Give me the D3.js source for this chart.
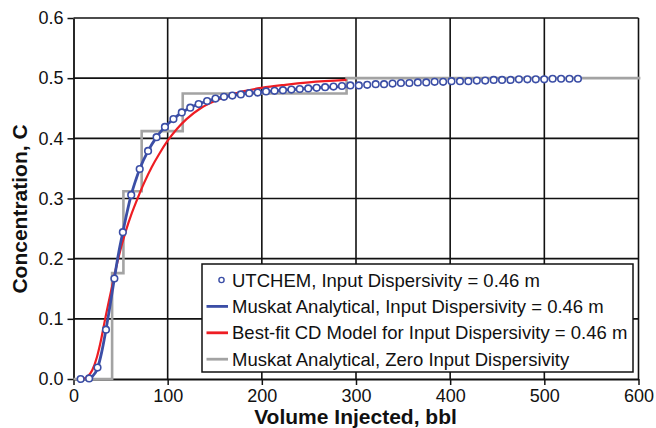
<!DOCTYPE html>
<html lang="en">
<head>
<meta charset="UTF-8">
<title>Concentration vs Volume Injected</title>
<script src="https://d3js.org/d3.v7.min.js"></script>
<style>
    body { margin: 0; background: #fff; }
    text { font-family: "Liberation Sans", Arial, sans-serif; }
</style>
</head>
<body>
<svg id="chart" width="656" height="428"></svg>
<script>
    // UTCHEM simulation points (bbl, C)
    const utchemX = [7.6, 16.6, 25.5, 34.5, 43.4, 52.4, 61.3, 70.3, 79.2, 88.2,
        97.1, 106.1, 115.0, 124.0, 132.9, 141.9, 150.8, 159.8, 168.7, 177.7,
        186.6, 195.6, 204.5, 213.5, 222.4, 231.4, 240.3, 249.3, 258.2, 267.2,
        276.1, 285.1, 294.0, 303.0, 311.9, 320.9, 329.8, 338.8, 347.7, 356.7,
        365.6, 374.6, 383.5, 392.5, 401.4, 410.4, 419.3, 428.3, 437.2, 446.2,
        455.1, 464.1, 473.0, 482.0, 490.9, 499.9, 508.8, 517.8, 526.7, 535.7];
    const utchemC = [0.000, 0.001, 0.019, 0.082, 0.167, 0.244, 0.306, 0.349, 0.379, 0.402,
        0.419, 0.432, 0.443, 0.451, 0.457, 0.462, 0.466, 0.469, 0.471, 0.473,
        0.475, 0.476, 0.478, 0.479, 0.480, 0.481, 0.482, 0.483, 0.484, 0.485,
        0.486, 0.487, 0.488, 0.488, 0.489, 0.490, 0.490, 0.491, 0.492, 0.492,
        0.493, 0.493, 0.494, 0.494, 0.495, 0.495, 0.495, 0.496, 0.496, 0.497,
        0.497, 0.497, 0.498, 0.498, 0.498, 0.498, 0.499, 0.499, 0.499, 0.499];

    // Muskat analytical, input dispersivity 0.46 m
    const muskatX = [16, 20, 25.5, 30, 34.5, 39, 43.4, 48, 52.4, 57, 61.3, 66, 70.3,
        79.2, 88.2, 97.1, 106.1, 115, 124, 141.9, 159.8, 186.6, 213.5, 240.3, 267.2, 290];
    const muskatC = [0, 0.004, 0.018, 0.045, 0.082, 0.124, 0.167, 0.21, 0.244, 0.278, 0.306, 0.33, 0.349,
        0.379, 0.402, 0.419, 0.432, 0.443, 0.451, 0.462, 0.469, 0.475, 0.479, 0.482, 0.485, 0.4865];

    // Best-fit CD model
    const cdX = [10, 15, 20, 25, 29, 33, 40, 47, 55, 62, 68, 75, 83, 91, 100, 110,
        120, 135, 150, 165, 180, 200, 225, 250, 290];
    const cdC = [0, 0.004, 0.015, 0.037, 0.063, 0.095, 0.147, 0.197, 0.243, 0.276, 0.300, 0.326, 0.352, 0.374, 0.396, 0.416,
        0.432, 0.450, 0.462, 0.471, 0.478, 0.484, 0.489, 0.493, 0.497];

    // Muskat analytical, zero dispersivity (step function)
    const stepX = [0, 41, 53, 72.4, 116, 290, 602];
    const stepC = [0, 0.176, 0.312, 0.412, 0.4746, 0.5, 0.5];

    const xTicks = [0, 100, 200, 300, 400, 500, 600];
    const yTicks = [0, 0.1, 0.2, 0.3, 0.4, 0.5, 0.6];

    const legendLabels = [
        "UTCHEM, Input Dispersivity = 0.46 m",
        "Muskat Analytical, Input Dispersivity = 0.46 m",
        "Best-fit CD Model for Input Dispersivity = 0.46 m",
        "Muskat Analytical, Zero Input Dispersivity"
    ];

    const svg = d3.select("#chart");
    const margin = { top: 18, left: 73.5 };
    const plotW = 565, plotH = 361;

    const x = d3.scaleLinear().domain([0, 600]).range([0, plotW]);
    const y = d3.scaleLinear().domain([0, 0.6]).range([plotH, 0]);

    const g = svg.append("g").attr("transform", `translate(${margin.left},${margin.top})`);

    // grid
    g.append("g")
        .selectAll("line.vgrid")
        .data(xTicks.slice(1))
        .join("line")
        .attr("x1", d => x(d)).attr("x2", d => x(d))
        .attr("y1", 0).attr("y2", plotH)
        .attr("stroke", "#111").attr("stroke-width", 1.6);
    g.append("g")
        .selectAll("line.hgrid")
        .data(yTicks.slice(1))
        .join("line")
        .attr("x1", 0).attr("x2", plotW)
        .attr("y1", d => y(d)).attr("y2", d => y(d))
        .attr("stroke", "#111").attr("stroke-width", 1.6);

    // axes
    const xAxis = g.append("g")
        .attr("transform", `translate(0,${plotH})`)
        .call(d3.axisBottom(x).tickValues(xTicks).tickSize(6).tickPadding(4).tickSizeOuter(0));
    const yAxis = g.append("g")
        .call(d3.axisLeft(y).tickValues(yTicks).tickFormat(d3.format(".1f")).tickSize(6).tickPadding(4).tickSizeOuter(0));
    [xAxis, yAxis].forEach(a => {
        a.select(".domain").attr("stroke", "#111").attr("stroke-width", 1.8);
        a.selectAll(".tick line").attr("stroke", "#111").attr("stroke-width", 1.5);
        a.selectAll(".tick text").attr("fill", "#111")
            .style("font-size", "18px").style("font-family", "'Liberation Sans', Arial, sans-serif");
    });

    const toPts = (xs, ys) => xs.map((v, i) => [v, ys[i]]);

    // zero dispersivity step
    g.append("path")
        .datum(toPts(stepX, stepC))
        .attr("fill", "none")
        .attr("stroke", "#a3a3a3")
        .attr("stroke-width", 2.6)
        .attr("d", d3.line().x(d => x(d[0])).y(d => y(d[1])).curve(d3.curveStepAfter));

    // CD model
    g.append("path")
        .datum(toPts(cdX, cdC))
        .attr("fill", "none")
        .attr("stroke", "#ee1d23")
        .attr("stroke-width", 2.2)
        .attr("d", d3.line().x(d => x(d[0])).y(d => y(d[1])).curve(d3.curveMonotoneX));

    // Muskat analytical
    g.append("path")
        .datum(toPts(muskatX, muskatC))
        .attr("fill", "none")
        .attr("stroke", "#3b4ea6")
        .attr("stroke-width", 2.8)
        .attr("d", d3.line().x(d => x(d[0])).y(d => y(d[1])).curve(d3.curveMonotoneX));

    // UTCHEM markers
    g.append("g")
        .selectAll("circle")
        .data(toPts(utchemX, utchemC))
        .join("circle")
        .attr("cx", d => x(d[0]))
        .attr("cy", d => y(d[1]))
        .attr("r", 3.3)
        .attr("fill", "#fff")
        .attr("stroke", "#3b4ea6")
        .attr("stroke-width", 1.6);

    // legend
    const legend = svg.append("g").attr("transform", "translate(202,264)");
    legend.append("rect")
        .attr("width", 431).attr("height", 108)
        .attr("fill", "#fff").attr("stroke", "#111").attr("stroke-width", 1.5);
    const rowY = i => 16 + i * 26.4;
    const styles = [
        { type: "circle", color: "#3b4ea6" },
        { type: "line", color: "#3b4ea6" },
        { type: "line", color: "#ee1d23" },
        { type: "line", color: "#a3a3a3" }
    ];
    styles.forEach((s, i) => {
        if (s.type === "circle") {
            legend.append("circle")
                .attr("cx", 19.5).attr("cy", rowY(i)).attr("r", 2.6)
                .attr("fill", "#fff").attr("stroke", s.color).attr("stroke-width", 1.4);
        } else {
            legend.append("line")
                .attr("x1", 4.5).attr("x2", 26).attr("y1", rowY(i)).attr("y2", rowY(i))
                .attr("stroke", s.color).attr("stroke-width", 2.8);
        }
        legend.append("text")
            .attr("x", 30).attr("y", rowY(i) + 6.5)
            .attr("fill", "#111")
            .style("font-size", "18.5px")
            .text(legendLabels[i]);
    });

    // axis titles
    svg.append("text")
        .attr("x", 355.5).attr("y", 424)
        .attr("text-anchor", "middle")
        .style("font-size", "21px").style("font-weight", "bold")
        .attr("fill", "#111")
        .text("Volume Injected, bbl");
    svg.append("text")
        .attr("transform", "translate(27,209) rotate(-90)")
        .attr("text-anchor", "middle")
        .style("font-size", "21px").style("font-weight", "bold")
        .attr("fill", "#111")
        .text("Concentration, C");
</script>
</body>
</html>
